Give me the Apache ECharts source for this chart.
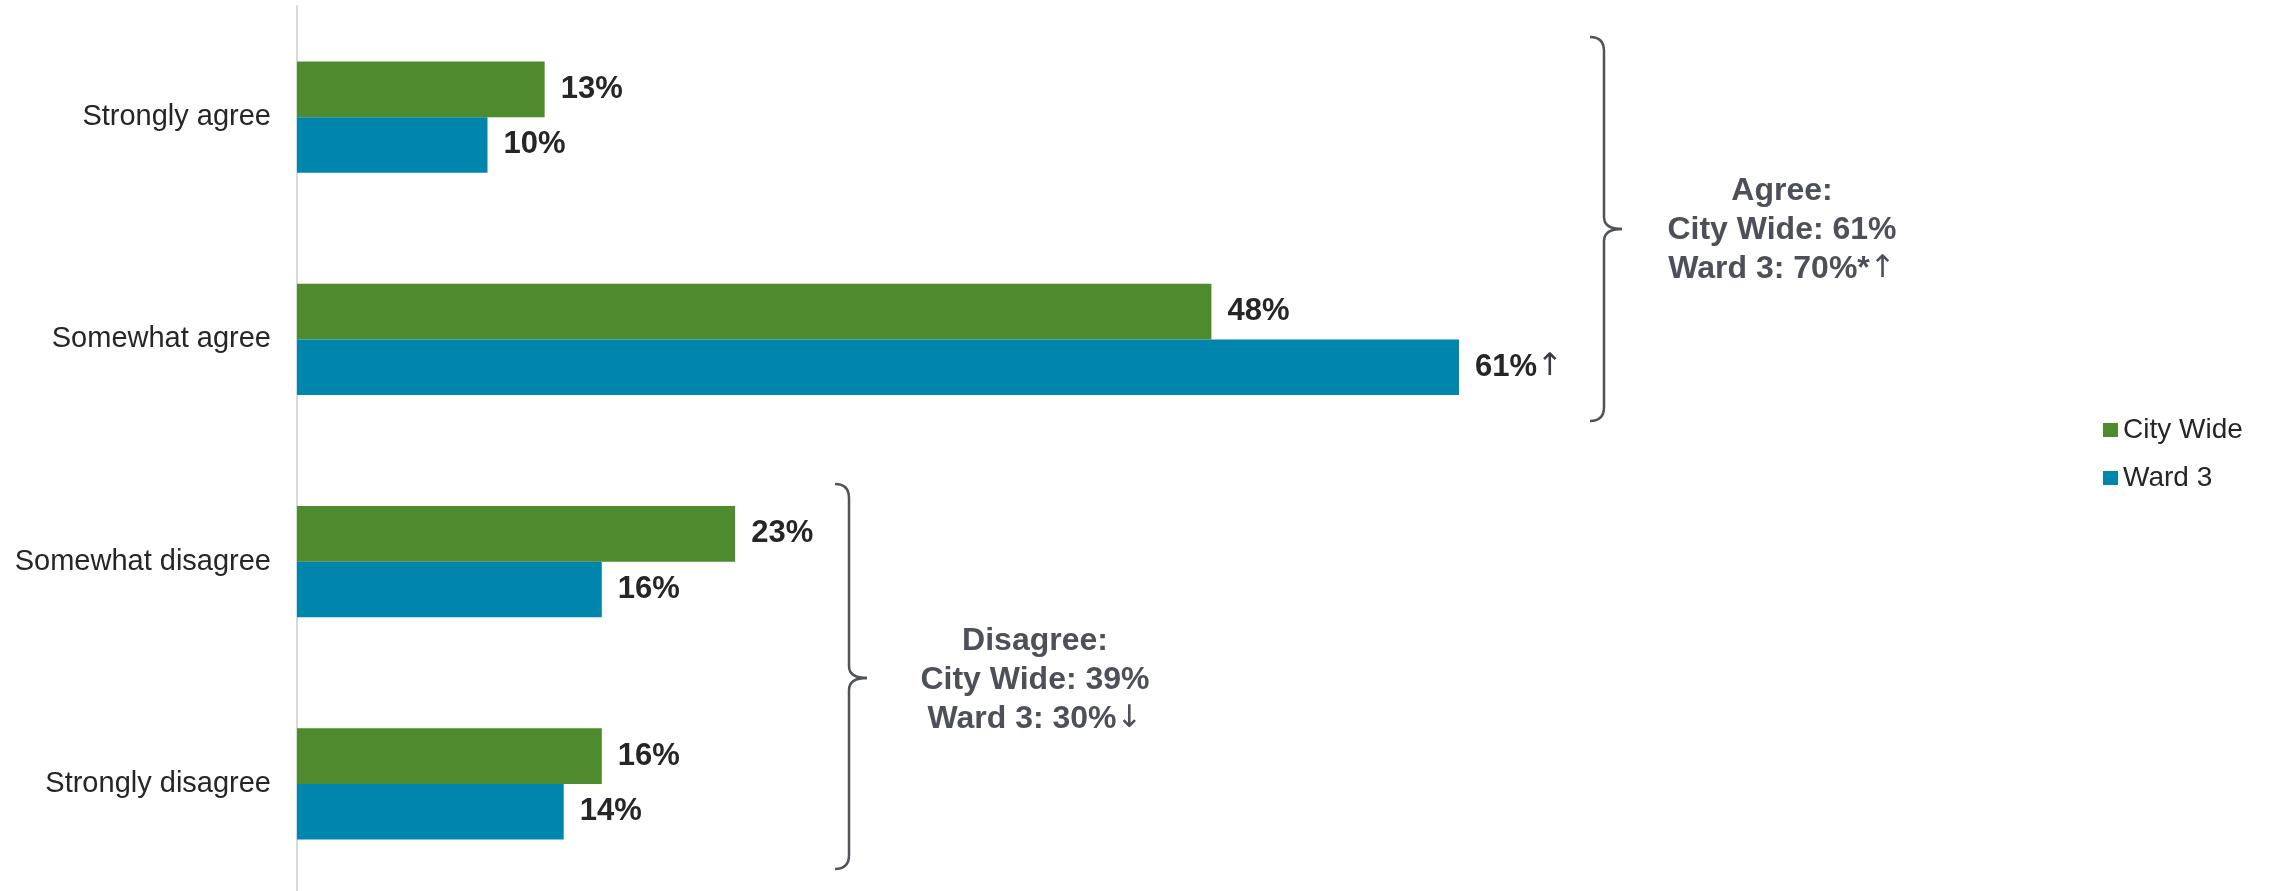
<!DOCTYPE html>
<html>
<head>
<meta charset="utf-8">
<script src="https://cdn.jsdelivr.net/npm/echarts@6/dist/echarts.min.js"></script>
<style>
  html, body { margin: 0; padding: 0; background: #fff; }
  #chart { width: 2277px; height: 891px; }
</style>
</head>
<body>
<div id="chart"></div>
<script>
const categories = ['Strongly agree', 'Somewhat agree', 'Somewhat disagree', 'Strongly disagree']
const seriesNames = ['City Wide', 'Ward 3']
const cityWide = [13, 48, 23, 16]
const ward3 = [10, 61, 16, 14]
// significance arrows next to the Ward 3 labels
const ward3Marks = ['', '↑', '', '']
const agreeNote = ['Agree:', 'City Wide: 61%', 'Ward 3: 70%*{a|↑}']
const disagreeNote = ['Disagree:', 'City Wide: 39%', 'Ward 3: 30%{a|↓}']

const FONT = '"Liberation Sans", Arial, sans-serif'
const ARROW_FONT = '"DejaVu Sans", sans-serif'
const GREEN = '#4e8b2e'
const BLUE = '#0085ad'
const NOTE = '#4d5058'

const chartDom = document.getElementById('chart')
const myChart = echarts.init(chartDom)

const valueLabel = (marks) => ({
    show: true,
    position: 'right',
    distance: 16,
    formatter: (p) => {
        const m = marks ? marks[p.dataIndex] : ''
        return '{v|' + p.value + '%}' + (m ? '{a|' + m + '}' : '')
    },
    rich: {
        v: { fontFamily: FONT, fontSize: 31, fontWeight: 'bold', color: '#262626' },
        a: { fontFamily: ARROW_FONT, fontSize: 31, fontWeight: 'normal', color: '#3a3d42' },
    },
})

// curly bracket, opening to the right
const bracket = (x, top, bottom, tip) => {
    const r = 14
    const t = 18
    const st = { stroke: '#50535a', lineWidth: 2.5, fill: null }
    const curve = (x1, y1, x2, y2, cx, cy) => ({
        type: 'bezierCurve',
        shape: { x1, y1, x2, y2, cpx1: cx, cpy1: cy },
        style: st,
    })
    const line = (x1, y1, x2, y2) => ({
        type: 'line',
        shape: { x1, y1, x2, y2 },
        style: st,
    })
    return {
        type: 'group',
        children: [
            curve(x - r, top, x, top + r, x, top),
            line(x, top + r, x, tip - 12),
            curve(x, tip - 12, x + t, tip, x, tip),
            curve(x + t, tip, x, tip + 12, x, tip),
            line(x, tip + 12, x, bottom - r),
            curve(x, bottom - r, x - r, bottom, x, bottom),
        ],
    }
}

const note = (lines, cx, cy) => ({
    type: 'text',
    x: cx,
    y: cy,
    style: {
        text: lines.join('\n'),
        fontFamily: FONT,
        fontSize: 32,
        fontWeight: 'bold',
        fill: NOTE,
        align: 'center',
        verticalAlign: 'middle',
        lineHeight: 39,
        rich: {
            a: { fontFamily: ARROW_FONT, fontSize: 31, fontWeight: 'normal', fill: NOTE, lineHeight: 39 },
        },
    },
})

const option = {
    animation: false,
    backgroundColor: '#fff',
    grid: {
        left: 297,
        width: 1905,
        top: 6,
        height: 889,
        outerBoundsMode: 'none',
    },
    legend: {
        orient: 'vertical',
        left: 2098,
        top: 411,
        icon: 'rect',
        itemWidth: 15,
        itemHeight: 14,
        itemGap: 20,
        textStyle: { fontFamily: FONT, fontSize: 28, color: '#262626' },
        data: seriesNames,
    },
    xAxis: {
        type: 'value',
        min: 0,
        max: 100,
        show: false,
    },
    yAxis: {
        type: 'category',
        data: categories,
        inverse: true,
        axisLine: { show: true, lineStyle: { color: '#d9d9d9', width: 2 } },
        axisTick: { show: false },
        axisLabel: { margin: 26, fontFamily: FONT, fontSize: 29, color: '#262626' },
    },
    series: [
        {
            name: seriesNames[0],
            type: 'bar',
            data: cityWide,
            barGap: 0,
            barCategoryGap: '50%',
            itemStyle: { color: GREEN },
            label: valueLabel(null),
        },
        {
            name: seriesNames[1],
            type: 'bar',
            data: ward3,
            barGap: 0,
            barCategoryGap: '50%',
            itemStyle: { color: BLUE },
            label: valueLabel(ward3Marks),
        },
    ],
    graphic: [
        bracket(1604, 37, 421, 229),
        bracket(849, 484, 869, 678),
        note(agreeNote, 1782, 230),
        note(disagreeNote, 1035, 680),
    ],
}
myChart.setOption(option)
</script>
</body>
</html>
